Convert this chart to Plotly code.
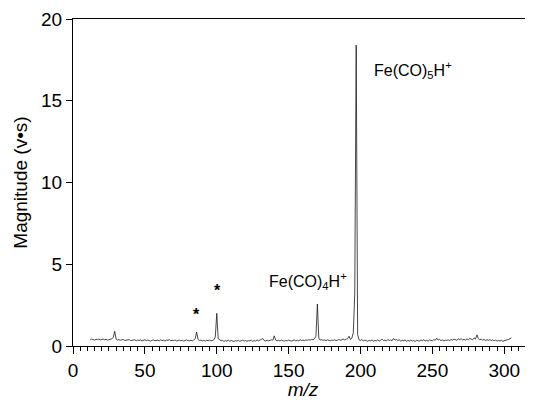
import plotly.graph_objects as go

# m/z axis (integer mass units)
mz = list(range(12, 306))

# Magnitude (v*s), m/z 12..305
magnitude = [
    0.38, 0.42, 0.40, 0.36, 0.41, 0.39, 0.43, 0.37, 0.40, 0.42,   # 12-21
    0.38, 0.41, 0.36, 0.40, 0.39, 0.44, 0.52, 0.90, 0.42, 0.37,   # 22-31
    0.39, 0.35, 0.38, 0.40, 0.34, 0.37, 0.36, 0.39, 0.33, 0.36,   # 32-41
    0.35, 0.38, 0.32, 0.36, 0.34, 0.37, 0.31, 0.35, 0.38, 0.33,   # 42-51
    0.36, 0.34, 0.30, 0.35, 0.37, 0.32, 0.34, 0.36, 0.31, 0.38,   # 52-61
    0.33, 0.35, 0.30, 0.36, 0.34, 0.39, 0.32, 0.35, 0.33, 0.37,   # 62-71
    0.31, 0.34, 0.36, 0.32, 0.35, 0.30, 0.34, 0.37, 0.33, 0.31,   # 72-81
    0.35, 0.32, 0.36, 0.45, 0.85, 0.40, 0.33, 0.36, 0.31, 0.34,   # 82-91
    0.30, 0.35, 0.32, 0.36, 0.31, 0.34, 0.38, 0.55, 2.00, 0.45,   # 92-101
    0.40, 0.32, 0.35, 0.28, 0.33, 0.30, 0.36, 0.29, 0.34, 0.31,   # 102-111
    0.27, 0.33, 0.30, 0.35, 0.28, 0.32, 0.36, 0.30, 0.34, 0.29,   # 112-121
    0.33, 0.31, 0.36, 0.28, 0.34, 0.30, 0.37, 0.32, 0.35, 0.40,   # 122-131
    0.46, 0.33, 0.30, 0.36, 0.31, 0.34, 0.38, 0.35, 0.62, 0.36,   # 132-141
    0.32, 0.35, 0.30, 0.37, 0.33, 0.29, 0.35, 0.31, 0.36, 0.33,   # 142-151
    0.30, 0.34, 0.37, 0.31, 0.35, 0.32, 0.38, 0.34, 0.36, 0.33,   # 152-161
    0.37, 0.35, 0.39, 0.36, 0.40, 0.38, 0.45, 0.60, 2.57, 0.48,   # 162-171
    0.36, 0.39, 0.34, 0.37, 0.33, 0.38, 0.35, 0.32, 0.36, 0.34,   # 172-181
    0.38, 0.33, 0.36, 0.40, 0.35, 0.38, 0.42, 0.37, 0.41, 0.45,   # 182-191
    0.60, 0.40, 0.50, 0.80, 3.20, 18.40, 0.70, 0.38, 0.34, 0.40,  # 192-201
    0.30, 0.36, 0.33, 0.28, 0.35, 0.31, 0.37, 0.29, 0.34, 0.32,   # 202-211
    0.38, 0.30, 0.35, 0.42, 0.33, 0.36, 0.30, 0.40, 0.34, 0.37,   # 212-221
    0.32, 0.46, 0.36, 0.40, 0.33, 0.38, 0.30, 0.35, 0.32, 0.37,   # 222-231
    0.29, 0.34, 0.31, 0.36, 0.30, 0.33, 0.28, 0.35, 0.32, 0.30,   # 232-241
    0.36, 0.33, 0.38, 0.31, 0.35, 0.30, 0.37, 0.34, 0.32, 0.39,   # 242-251
    0.35, 0.48, 0.36, 0.40, 0.33, 0.37, 0.31, 0.36, 0.34, 0.38,   # 252-261
    0.33, 0.40, 0.36, 0.42, 0.38, 0.35, 0.44, 0.39, 0.45, 0.37,   # 262-271
    0.41, 0.36, 0.43, 0.39, 0.46, 0.40, 0.38, 0.50, 0.42, 0.68,   # 272-281
    0.45, 0.38, 0.42, 0.36, 0.40, 0.34, 0.38, 0.35, 0.39, 0.33,   # 282-291
    0.37, 0.32, 0.36, 0.30, 0.34, 0.31, 0.35, 0.29, 0.33, 0.36,   # 292-301
    0.38, 0.40, 0.43, 0.50,                                       # 302-305
]

# peak labels
label_text = ["Fe(CO)<sub>5</sub>H<sup>+</sup>", "Fe(CO)<sub>4</sub>H<sup>+</sup>", "<b>*</b>", "<b>*</b>"]
label_x = [208, 135, 85.6, 100.2]
label_y = [16.9, 4.0, 1.9, 3.4]

FONT = "Liberation Sans, Arial, Helvetica, sans-serif"

fig = go.Figure()
fig.add_trace(go.Scatter(
    x=mz, y=magnitude, mode="lines",
    line=dict(color="#1a1a1a", width=0.8),
    hoverinfo="skip", showlegend=False,
))

for i, (t, x, y) in enumerate(zip(label_text, label_x, label_y)):
    fig.add_annotation(
        x=x, y=y, text=t, showarrow=False,
        xanchor="left" if i < 2 else "center", yanchor="middle",
        font=dict(family=FONT, size=16, color="black"),
    )

# page body has an 8px default margin, so the figure is sized/offset to compensate
fig.update_layout(
    width=525, height=392,
    margin=dict(l=65, r=0, t=11, b=54),
    paper_bgcolor="white", plot_bgcolor="white",
    font=dict(family=FONT, size=19, color="black"),
    xaxis=dict(
        range=[0, 320], tickmode="array", tickvals=[0, 50, 100, 150, 200, 250, 300],
        ticks="outside", ticklen=7, tickwidth=1, tickcolor="black",
        minor=dict(dtick=5, tick0=0, ticks="outside", ticklen=4, tickwidth=1, tickcolor="black", showgrid=False),
        showline=True, linecolor="black", linewidth=1, mirror=True,
        showgrid=False, zeroline=False, automargin=False,
        tickfont=dict(size=19),
        title=dict(text="<i>m/z</i>", font=dict(size=19), standoff=4),
    ),
    yaxis=dict(
        range=[0, 20], tickvals=[0, 5, 10, 15, 20],
        ticks="outside", ticklen=6, tickwidth=1, tickcolor="black",
        showline=True, linecolor="black", linewidth=1,
        showgrid=False, zeroline=False, automargin=False,
        tickfont=dict(size=19),
        title=dict(text="Magnitude (v•s)", font=dict(size=19), standoff=8),
    ),
)

fig.write_html("out.html")
